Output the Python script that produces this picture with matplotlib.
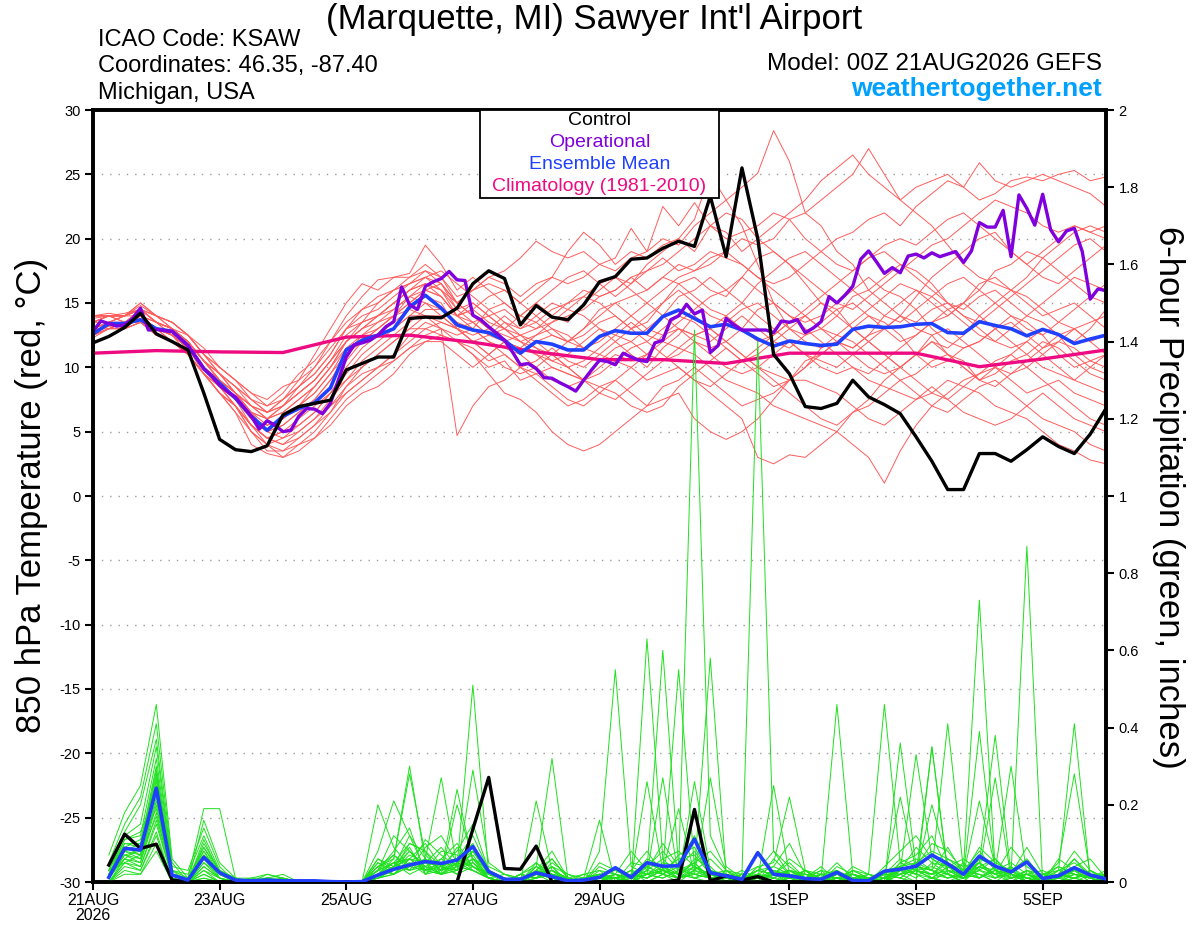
#!/usr/bin/python3
"""
GEFS plume for KSAW: 850 hPa temperature members (red) and 6-hour precip (green)
"""
import numpy as np
import pandas as pd
import matplotlib
matplotlib.use("Agg")
import matplotlib.pyplot as plt
from matplotlib.patches import Rectangle

plt.rcParams['font.family'] = ['Liberation Sans', 'DejaVu Sans']

#
# Time axes
#
t6 = pd.date_range("2026-08-21 00:00", periods=65, freq="6h")
t3 = pd.date_range("2026-08-21 00:00", periods=129, freq="3h")
tday = pd.date_range("2026-08-21", periods=17, freq="D")
tp = t6[1:]

tick_dates = ["2026-08-21", "2026-08-23", "2026-08-25", "2026-08-27",
              "2026-08-29", "2026-09-01", "2026-09-03", "2026-09-05"]
tick_labels = ["21AUG\n2026", "23AUG", "25AUG", "27AUG", "29AUG", "1SEP", "3SEP", "5SEP"]

#
# 850 hPa temperature (C)
#
control_t = [11.9, 12.4, 13.1, 14.2, 12.6, 12.0, 11.35, 8.0, 4.4, 3.6, 3.45, 3.9, 6.3,
             6.95, 7.2, 7.45, 9.8, 10.3, 10.8, 10.8, 13.8, 13.9, 13.85, 14.6, 16.5, 17.5,
             16.9, 13.3, 14.8, 13.9, 13.7, 14.85, 16.65, 17.05, 18.4, 18.5, 19.25, 19.8,
             19.4, 23.3, 18.6, 25.5, 20.0, 11.0, 9.5, 6.95, 6.8, 7.2, 9.0, 7.7, 7.1, 6.4,
             4.6, 2.7, 0.5, 0.5, 3.3, 3.3, 2.7, 3.6, 4.6, 3.85, 3.3, 4.8, 6.8]

mean_t = [12.6, 13.4, 13.4, 13.7, 13.0, 12.8, 11.7, 9.9, 8.75, 7.6, 6.2, 5.1, 6.2, 6.8,
          7.25, 8.4, 11.35, 12.1, 12.5, 13.0, 14.7, 15.6, 14.6, 13.3, 12.9, 12.7, 12.1,
          11.1, 12.0, 11.8, 11.35, 11.35, 12.4, 12.85, 12.65, 12.65, 13.95, 14.45, 13.8,
          13.15, 13.35, 12.9, 12.2, 11.65, 12.05, 11.85, 11.7, 11.8, 12.95, 13.2, 13.1,
          13.15, 13.35, 13.4, 12.7, 12.65, 13.55, 13.25, 13.0, 12.45, 12.95, 12.55,
          11.85, 12.2, 12.5]

oper_t = [12.8, 13.6, 13.4, 13.2, 13.3, 13.8, 14.6, 12.9, 12.95, 12.85, 12.8, 12.25,
          11.7, 10.8, 9.9, 9.3, 8.6, 8.1, 7.7, 6.95, 6.2, 5.2, 5.85, 5.5, 5.0, 5.1, 6.2,
          6.8, 6.75, 6.4, 7.2, 9.0, 10.8, 11.75, 11.9, 12.1, 12.5, 13.15, 13.55, 16.25,
          14.85, 14.5, 16.3, 16.65, 16.9, 17.45, 16.8, 16.75, 14.05, 13.7, 13.15, 12.65,
          12.1, 11.2, 10.2, 10.3, 9.9, 9.2, 9.15, 8.8, 8.5, 8.15, 9.0, 9.8, 10.55, 10.45,
          10.2, 11.1, 10.8, 10.55, 10.45, 11.9, 12.1, 13.7, 14.0, 14.9, 14.15, 14.45,
          11.15, 11.7, 13.8, 13.3, 12.9, 12.9, 12.9, 12.9, 12.7, 13.6, 13.5, 13.7, 12.7,
          13.05, 13.55, 15.5, 15.0, 15.6, 16.3, 18.4, 19.05, 18.2, 17.3, 17.75, 17.35,
          18.65, 18.8, 18.5, 18.9, 18.6, 18.8, 19.0, 18.15, 19.05, 21.25, 20.9, 20.9,
          22.2, 18.6, 23.4, 22.35, 21.05, 23.45, 20.7, 19.75, 20.6, 20.8, 19.0, 15.3,
          16.1, 15.95]

clim_t = [11.1, 11.3, 11.2, 11.15, 12.35, 12.5, 11.95, 11.2, 10.6, 10.6, 10.3, 11.1,
          11.1, 11.1, 10.05, 10.65, 11.35]

m01 = [13.5, 14, 14, 14.5, 13.5, 13, 12, 10.5, 9, 7.5, 6.5, 6, 7, 8.5, 10, 12, 13.5, 14.5, 15, 16, 16.5, 17.5, 17,
       15, 16, 16.5, 16, 15, 16, 17, 16.5, 17, 18, 17.5, 18.5, 19, 20, 19.5, 21, 22, 23, 24, 25.1,
       28.4, 26, 22, 21, 19, 18, 16, 15, 14, 13, 12.5, 11, 10.5, 9, 10, 11, 12, 11, 10, 9, 10, 11]
m02 = [12.5, 13, 13.5, 14, 13, 12.5, 11.5, 10, 8.5, 7, 5.5, 4.5, 4, 5, 6, 7.5, 9, 10.5, 11.5, 12.5, 13.5, 14.5, 14.5,
       14, 15, 14, 13, 12.5, 13, 14, 15, 16, 15.5, 16, 17, 16, 17, 18, 17.5, 18, 19, 20, 19.5,
       20, 21.5, 22, 23, 24, 25, 27, 25, 23, 22, 21, 19.5, 18, 17, 16.5, 16, 15, 14, 14.5, 15, 14, 13]
m03 = [14, 14, 14, 15, 14, 13.5, 12.5, 11, 9.5, 8.5, 7.5, 6.5, 7.5, 9, 11, 13, 15, 16.5, 16, 17, 17.3, 19.5, 18,
       16, 17, 16, 15, 14, 15, 14, 13.5, 15, 16, 17, 16.5, 18, 19, 20, 19, 21, 20.5, 19, 20,
       21, 22, 23, 24.5, 25.5, 26.5, 25, 24, 23, 24, 24.5, 25, 24, 23, 23.5, 24.5, 24.8, 24.5, 25, 25.3, 24.5, 24.8]
m04 = [13, 13.5, 13.5, 14, 13.5, 13, 12, 10.5, 9, 8, 6.5, 5.5, 6, 7, 8, 9.5, 11, 12, 13, 14, 15, 16, 16.5,
       14.5, 15, 14, 14.5, 13.5, 13, 13.5, 14, 14.5, 15.5, 16, 17, 17.5, 18.5, 17.5, 18, 19, 18.5, 18, 17,
       16.5, 17, 18, 19, 20, 20.5, 21.5, 22, 21, 22.5, 23.5, 24.5, 24, 25.9, 24.5, 24, 24.5, 25, 24.5, 24, 23.5, 22.5]
m05 = [12.5, 13.5, 13, 13.5, 12.5, 12, 11, 9.5, 8, 7, 5, 4, 3, 3.5, 4.5, 5.5, 7, 8, 8.5, 9.5, 11, 12, 12.5,
       12, 11, 10, 10.5, 9, 9.5, 10, 9.5, 9, 10, 11, 10.5, 11, 12, 11.5, 11, 10, 9, 8.5, 8,
       7, 6.5, 6, 5.5, 5, 4, 3, 1.0, 3.5, 5.5, 7, 8, 9, 9.5, 10, 9, 8, 8.5, 9, 8, 7.5, 7]
m06 = [13, 13.5, 14, 14.5, 13.5, 13, 12, 10.5, 9.5, 8.5, 7, 6, 6.5, 7.5, 8.5, 10, 12, 13, 13.5, 14.5, 15.5, 15, 14,
       13, 12, 11, 12, 11, 10, 9, 8.5, 9, 10.5, 11.5, 12, 11, 10.5, 11, 12, 11, 10, 9.5, 10,
       11, 12, 11, 10, 9.5, 10, 9, 8.5, 8, 7.5, 8, 9, 8.5, 8, 7, 6.5, 6, 5, 4, 3.5, 2.8, 2.5]
m07 = [13.5, 14, 13.5, 14, 13, 12.5, 11.5, 10, 8.5, 7.5, 6, 5, 5.5, 6.5, 7.5, 9, 11, 12.5, 13.5, 14, 14.5, 14, 13,
       4.7, 7, 8.5, 9, 10, 9.5, 8.5, 7.5, 7, 8, 9, 10, 11, 12.5, 13, 12, 11.5, 12, 13, 14.5,
       15, 14, 13.5, 14, 15, 16, 17, 16, 15.5, 14.5, 13, 12, 11.5, 12, 13, 14, 13.5, 12.5, 11, 10, 10.5, 11]
m08 = [12.5, 13, 13, 13.5, 13, 12.5, 11.5, 10, 9, 8, 6.5, 5, 4.5, 5, 6, 7, 8, 9, 10, 11, 12.5, 13.5, 13,
       12, 11, 9.5, 8, 7.5, 6.5, 5, 4, 3.5, 4, 5, 6, 7, 8.5, 9, 10, 9, 8, 7, 7.5,
       8, 9, 10.5, 11, 12, 11.5, 12.5, 13, 14, 13.5, 14.5, 15, 14, 13, 12, 11.5, 12, 13, 12.5, 11, 10, 9.5]
m09 = [14, 14.2, 14, 14.5, 14, 13.5, 12.5, 11.5, 10, 9, 8, 7, 8, 9.5, 10.5, 12, 14, 15.5, 16.8, 17, 17, 18, 17,
       15.5, 16, 17, 16.5, 15.5, 16.5, 17, 19, 20.5, 19.5, 18, 19, 18.5, 19.5, 20, 21.5, 25, 23, 21, 18,
       15, 13, 12, 11.5, 12, 13, 14, 13.5, 12.5, 11, 10, 10.5, 11.5, 12, 13, 13.5, 12.5, 11.5, 12, 13, 13.5, 14]
m10 = [13, 13.5, 13.5, 14, 13, 12.5, 11.5, 10, 8.5, 7, 5.5, 4.5, 5, 6, 7, 8, 9.5, 11, 12, 13, 14, 15, 14.5,
       13.5, 13, 12, 11.5, 11, 12, 12.5, 12, 11.5, 11, 10.5, 10, 9, 9.5, 10, 9, 8, 7, 6, 3,
       2.5, 3.2, 3, 4, 5, 6.5, 7, 8, 9, 9.5, 10.5, 11, 10, 9, 9.5, 10.5, 11, 12, 11.5, 10.5, 9.5, 9]
m11 = [13.5, 13.5, 14, 14.5, 13.5, 12.5, 11.5, 10, 8.5, 7.5, 6, 5, 6, 7, 8, 9.5, 11.5, 12.5, 13, 14, 15, 16, 15.5,
       14, 14.5, 13.5, 13, 12, 12.5, 13, 12, 12.5, 13.5, 14, 13, 13.5, 15, 16, 15, 14, 13.5, 14.5, 15,
       14, 13, 12.5, 13, 14, 15.5, 16, 17, 18, 17.5, 16.5, 15, 14.5, 15.5, 16, 15, 14, 15, 16, 17, 16.5, 16]
m12 = [12.5, 13, 13.5, 14, 13, 12, 11, 9.5, 8.5, 7, 5, 3.5, 3.5, 4.5, 5.5, 6.5, 8, 9, 10, 11, 12, 13, 13.5,
       13, 12.5, 13, 12, 11.5, 11, 10.5, 11, 12, 13, 12.5, 12, 13, 14, 15.5, 16, 17, 16, 15, 14,
       13, 12, 11, 10.5, 10, 11, 12, 13, 14, 15.5, 17, 18, 19, 20, 20.5, 19, 18, 17, 16.5, 17.5, 18.5, 19.5]
m13 = [14, 14, 14, 14.5, 14, 13.5, 12.5, 11, 10, 9, 7.5, 7, 7.5, 8.5, 9.5, 11, 13, 14, 14.5, 15.5, 16.5, 17, 16.5,
       15, 14, 13, 14, 13, 14, 15, 14.5, 14, 13, 12, 13, 14, 15, 16.5, 17, 16, 15.5, 17, 18.5,
       19, 18, 16.5, 15, 14.5, 13, 12, 11, 10, 11, 12.5, 13, 12, 11, 10, 9.5, 10, 11, 12, 11.5, 10.5, 10]
m14 = [13, 13, 13.5, 14, 13, 12, 11, 9.5, 8, 6.5, 4, 3.3, 3, 4, 4.5, 6, 7.5, 8.5, 9.5, 10.5, 11.5, 12.5, 13,
       12.5, 13, 12, 11, 10, 10.5, 11.5, 10.5, 10, 11, 12, 11, 10, 11.5, 12.5, 14, 13, 12, 11, 10,
       9.5, 9, 10, 11, 12, 11, 10, 9.5, 10, 11, 12, 11.5, 12.5, 14, 15, 16, 17, 18.5, 19.5, 20.5, 21, 20.5]
m15 = [13.5, 14, 14, 15, 14, 13, 12, 10.5, 9, 8, 7, 6.5, 7, 8, 9, 10.5, 12.5, 13.5, 14, 15, 16, 16.5, 15.5,
       14, 13, 14.5, 15, 14, 13.5, 12.5, 12, 13, 14, 15, 15.5, 16, 17, 16.5, 15.5, 14.5, 14, 13, 12,
       12.5, 13.5, 14, 13, 12, 11.5, 12.5, 14, 15, 16, 15.5, 14.5, 13.5, 12.5, 12, 13, 14, 13.5, 12.5, 12, 13, 14.5]
m16 = [12.3, 13, 13, 13.5, 12.5, 12, 11, 9.5, 8, 7, 5.5, 4.5, 4, 4.5, 5.5, 7, 8.5, 9.5, 10, 10.5, 11.5, 12, 12,
       11, 10, 11, 12, 12.5, 11.5, 10.5, 10, 9, 8.5, 9, 8, 7, 7.5, 8, 6, 5, 4.4, 5, 6,
       7.5, 9, 9, 8.5, 8, 7, 6, 5.5, 6.5, 7.5, 8.5, 7.5, 6.5, 6, 5.5, 6, 7, 8, 7, 6, 5.5, 5]
m17 = [14, 14, 14.2, 14.5, 13.5, 13, 12.5, 11, 10, 9, 8, 7.5, 8.5, 9, 10, 11.5, 13, 14.5, 15.5, 16, 17, 17.5, 16.5,
       15, 16, 17, 17.5, 18.5, 19.8, 19, 18.5, 19, 18, 18.5, 20.8, 19, 22.5, 21, 22.8, 21, 20, 20.5, 21,
       22, 21.5, 20, 19, 18, 17.5, 18.5, 19.5, 20, 19.5, 20.5, 21.5, 22, 21, 20, 19, 18, 19, 20, 21, 20.5, 21]
m18 = [13, 13.5, 13, 14, 13, 12.5, 11.5, 10, 9, 7.5, 6, 5.5, 6, 7, 8.5, 10, 11.5, 12, 12.5, 13, 14, 14, 13.5,
       13, 12, 12.5, 13.5, 12.5, 12, 11, 10, 10.5, 11.5, 12.5, 13.5, 12.5, 12, 13, 12.5, 12, 13, 14, 13,
       12, 11.5, 12.5, 13.5, 14.5, 15, 14, 13, 12, 12.5, 13.5, 14, 15, 16.5, 17, 16, 15.5, 14.5, 13.5, 13, 12, 12.5]
m19 = [13.5, 14, 14, 14, 13.5, 13, 12, 10.5, 9.5, 8, 6.5, 6, 6.5, 7.5, 8.5, 10, 12, 13, 14, 15, 16, 16.5, 16,
       14, 14.5, 15.5, 16, 15, 14, 13, 12.5, 11.5, 12, 13, 14, 15, 16, 17, 17.5, 18.5, 19, 18, 17,
       16, 15, 14, 13, 12.5, 13.5, 14.5, 15.5, 16.5, 16, 15, 14, 15, 16, 17.5, 18, 19, 18.5, 17.5, 16.5, 15.5, 15]
m20 = [12.5, 13, 13.5, 13.5, 12.5, 12, 11, 9.5, 8.5, 7.5, 5.5, 4.5, 5, 5.5, 6.5, 8, 9, 10, 11, 12, 13, 13, 12.5,
       12, 11.5, 10.5, 11, 10, 9, 8, 7, 7.5, 8.5, 8, 7, 6.5, 7, 8.5, 9.5, 10.5, 11.5, 10.5, 9.5,
       8.5, 9, 10, 11.5, 12.5, 12, 11, 10, 9, 8, 7, 6.5, 7.5, 8.5, 9, 8, 7, 6, 5.5, 5, 4, 3.5]
m21 = [13, 13.5, 14, 14.5, 13.5, 12.5, 11.5, 10, 9, 7.5, 6, 5, 5.5, 6.5, 7.5, 9, 10.5, 12, 13, 14, 15.5, 16.5, 16,
       15, 14, 13, 12.5, 12, 11.5, 11, 12, 13, 14.5, 15, 14, 13, 12.5, 13.5, 14.5, 15.5, 16, 17, 16,
       15, 14, 13, 12, 11, 10, 9.5, 10.5, 11.5, 12.5, 13.5, 14.5, 15, 14, 13, 12, 11, 10, 9.5, 9, 8.5, 8]
m22 = [13.5, 14, 13.5, 14.5, 14, 13, 12, 10.5, 9, 8, 7, 6.5, 7.5, 8.5, 9.5, 11, 13, 13.5, 14, 15, 16, 17, 16,
       14.5, 13.5, 12.5, 13, 14, 15, 16, 17, 17.5, 16.5, 15.5, 16.5, 17.5, 18, 19, 20, 21, 22, 21.5, 20,
       19, 18, 17, 16, 15, 14.5, 15.5, 16.5, 17.5, 18.5, 19.5, 20, 21, 22, 23, 22.5, 22, 21, 20.5, 21, 20.5, 20]
m23 = [12.8, 13.2, 13.5, 14, 13, 12.5, 11.5, 9.5, 8, 6.5, 5, 4, 4.5, 5.5, 6.5, 8, 10, 11.5, 12.5, 13.5, 14.5, 15.5, 15,
       13, 12, 11, 10, 9.5, 10, 11, 10, 9, 8, 7.5, 8.5, 9.5, 10.5, 11.5, 12.5, 13, 12, 11, 10,
       9, 8, 7, 6, 5.5, 6.5, 7.5, 9, 10, 11, 12, 11, 10, 9, 8.5, 9.5, 10.5, 11.5, 12.5, 13, 12, 11]
m24 = [14, 14, 14, 14.8, 14, 13.5, 12.5, 11, 9.5, 8.5, 7.5, 6.5, 7, 8, 9, 10.5, 12, 13.5, 15, 16, 16.5, 17, 17.5,
       16.5, 15.5, 14.5, 13.5, 13, 13.5, 14.5, 15, 15.5, 15, 14, 13, 12, 11, 10, 9, 8.5, 9.5, 10.5, 11.5,
       12.5, 13.5, 14.5, 15.5, 16.5, 17.5, 18.5, 19, 18, 17, 16, 15, 14, 13.5, 14.5, 15.5, 16.5, 17.5, 18.5, 19.5, 20, 19]
m25 = [12.6, 13.2, 13.2, 13.8, 13, 12.5, 11, 9.5, 8, 7, 5.5, 4, 3.5, 4, 5, 6.5, 8.5, 10, 11, 12, 13, 14, 14,
       13, 13.5, 14, 13, 12, 11, 10, 9.5, 9, 9.5, 10.5, 11.5, 12, 13, 14, 13.5, 12.5, 11.5, 10.5, 11,
       12, 13, 14, 15, 14, 13, 12, 11, 10, 9, 8, 7.5, 8.5, 9.5, 10.5, 11, 10, 9, 8, 7, 6, 5.5]
m26 = [13.8, 14, 14, 14.5, 13.5, 13, 12, 10.5, 9.5, 8, 7, 6, 7, 8, 9, 10.5, 12, 13, 14, 14.5, 15.5, 16, 15.5,
       14, 13.5, 12.5, 12, 11.5, 12.5, 13.5, 14.5, 15.5, 16.5, 17, 16, 15, 14, 13, 12.5, 13, 14, 15, 16.5,
       17.5, 18.5, 19, 18, 17, 16, 15, 14, 13.5, 14.5, 15.5, 16.5, 17, 16, 15, 14, 13, 12.5, 13.5, 14.5, 15.5, 16.5]
members_t = [m01, m02, m03, m04, m05, m06, m07, m08, m09, m10, m11, m12, m13,
             m14, m15, m16, m17, m18, m19, m20, m21, m22, m23, m24, m25, m26]

#
# 6-hour precipitation (inches), from 06Z 21AUG
#
control_p = [0.044, 0.124, 0.087, 0.098, 0.005] + [0.0] * 18 + \
            [0.137, 0.271, 0.035, 0.033, 0.093] + [0.0] * 8 + \
            [0.005, 0.188, 0.003, 0.016, 0.005, 0.014] + [0.0] * 22

mean_p = [0.012, 0.087, 0.083, 0.243, 0.018, 0.005, 0.064, 0.024, 0.005, 0.003, 0.005,
          0.003, 0.003, 0.003, 0.001, 0.0, 0.001, 0.018, 0.033, 0.044, 0.053, 0.048, 0.057,
          0.092, 0.027, 0.007, 0.007, 0.024, 0.014, 0.003, 0.005, 0.012, 0.037, 0.012,
          0.050, 0.041, 0.042, 0.111, 0.024, 0.016, 0.007, 0.076, 0.020, 0.016, 0.009,
          0.007, 0.025, 0.004, 0.003, 0.028, 0.033, 0.041, 0.070, 0.047, 0.020, 0.067,
          0.041, 0.026, 0.052, 0.009, 0.016, 0.037, 0.018, 0.008]

# members in hundredths of an inch
p01 = [7, 18, 25, 46, 6, 1, 19, 19, 1, 0, 1, 2, 0, 0, 0, 0, 0, 3, 5, 10, 8, 2, 6, 12, 3, 1, 0, 4, 2, 0, 2, 3,
       2, 0, 4, 8, 3, 143, 12, 3, 0, 1, 2, 5, 1, 0, 2, 1, 0, 1, 4, 2, 0, 3, 2, 21, 4, 1, 2, 0, 1, 6, 2, 1]
p02 = [5, 15, 22, 41, 5, 0, 16, 5, 1, 1, 0, 1, 0, 0, 0, 0, 0, 8, 21, 12, 3, 5, 2, 8, 2, 0, 1, 3, 6, 1, 0, 5,
       3, 1, 0, 2, 1, 6, 4, 0, 2, 140, 8, 2, 0, 1, 3, 0, 0, 0, 2, 5, 1, 0, 1, 3, 6, 2, 0, 1, 0, 3, 1, 0]
p03 = [4, 13, 20, 37, 4, 3, 14, 4, 0, 0, 2, 1, 0, 0, 0, 0, 0, 2, 6, 30, 5, 9, 4, 3, 1, 2, 0, 1, 4, 2, 1, 16,
       0, 2, 5, 3, 1, 2, 1, 0, 1, 3, 4, 2, 0, 1, 0, 2, 1, 0, 3, 1, 5, 2, 0, 6, 4, 2, 87, 0, 2, 3, 0, 1]
p04 = [3, 12, 15, 35, 3, 2, 12, 3, 1, 0, 1, 0, 0, 0, 0, 0, 0, 5, 3, 8, 4, 2, 20, 6, 1, 0, 2, 5, 1, 0, 1, 2,
       1, 3, 2, 5, 4, 8, 2, 1, 0, 4, 5, 22, 3, 0, 1, 2, 0, 1, 5, 3, 2, 6, 4, 73, 3, 2, 1, 0, 2, 4, 1, 0]
p05 = [3, 11, 12, 32, 3, 0, 10, 3, 0, 0, 1, 0, 0, 0, 0, 0, 0, 1, 2, 5, 3, 4, 6, 10, 2, 1, 0, 3, 2, 1, 0, 1,
       1, 0, 63, 6, 2, 5, 1, 0, 2, 1, 3, 0, 1, 0, 2, 1, 0, 1, 3, 33, 6, 4, 1, 5, 2, 0, 3, 1, 0, 2, 1, 2]
p06 = [2, 10, 10, 30, 2, 1, 9, 3, 1, 0, 0, 0, 0, 0, 0, 0, 0, 3, 8, 14, 2, 6, 3, 29, 5, 2, 1, 2, 3, 0, 1, 0,
       2, 1, 3, 60, 4, 2, 3, 1, 0, 2, 1, 3, 2, 1, 0, 3, 1, 0, 4, 2, 20, 5, 3, 2, 1, 4, 0, 2, 1, 3, 0, 1]
p07 = [2, 10, 9, 29, 2, 0, 8, 2, 0, 1, 2, 1, 0, 0, 0, 0, 0, 4, 6, 28, 7, 3, 5, 4, 1, 0, 2, 1, 5, 2, 0, 1,
       0, 2, 1, 3, 55, 4, 2, 0, 1, 3, 2, 1, 0, 2, 1, 0, 2, 1, 0, 3, 4, 2, 5, 1, 3, 2, 0, 1, 4, 2, 1, 0]
p08 = [2, 9, 8, 27, 2, 1, 7, 2, 0, 0, 0, 1, 0, 0, 0, 0, 0, 2, 4, 6, 10, 4, 8, 15, 3, 1, 0, 21, 3, 1, 0, 8,
       55, 4, 2, 1, 3, 5, 1, 2, 0, 1, 2, 3, 1, 0, 2, 1, 0, 2, 1, 4, 3, 1, 2, 4, 2, 1, 3, 0, 2, 1, 0, 2]
p09 = [1, 9, 7, 25, 2, 0, 6, 2, 1, 0, 0, 0, 0, 0, 0, 0, 0, 20, 9, 4, 3, 2, 5, 7, 1, 0, 1, 2, 4, 0, 1, 2,
       1, 0, 2, 4, 1, 3, 58, 2, 1, 0, 3, 2, 1, 4, 0, 1, 1, 3, 2, 0, 1, 4, 2, 3, 1, 2, 0, 1, 5, 28, 2, 1]
p10 = [1, 8, 7, 24, 2, 0, 5, 1, 0, 0, 1, 0, 0, 0, 0, 0, 0, 6, 4, 9, 2, 5, 4, 51, 2, 1, 0, 3, 1, 0, 0, 4,
       2, 1, 4, 2, 0, 3, 1, 0, 1, 2, 0, 1, 3, 0, 1, 2, 0, 1, 22, 3, 2, 5, 1, 2, 0, 3, 1, 2, 0, 1, 3, 0]
p11 = [1, 8, 6, 22, 1, 0, 4, 1, 0, 0, 0, 0, 0, 0, 0, 0, 0, 1, 3, 7, 5, 2, 3, 6, 4, 2, 1, 2, 0, 1, 2, 1,
       0, 2, 1, 3, 2, 4, 1, 0, 2, 0, 1, 3, 2, 1, 0, 2, 1, 0, 3, 2, 1, 2, 0, 4, 3, 30, 2, 0, 1, 2, 1, 0]
p12 = [1, 7, 6, 21, 1, 0, 4, 1, 0, 0, 1, 0, 0, 0, 0, 0, 0, 3, 7, 4, 6, 27, 4, 5, 1, 0, 2, 1, 3, 1, 0, 2,
       1, 3, 0, 2, 4, 1, 2, 3, 0, 1, 2, 0, 3, 1, 46, 2, 0, 1, 2, 3, 1, 0, 2, 1, 3, 0, 2, 1, 0, 1, 2, 1]
p13 = [1, 7, 5, 20, 1, 0, 3, 1, 0, 0, 0, 0, 0, 0, 0, 0, 0, 2, 5, 3, 4, 3, 6, 4, 2, 1, 0, 2, 1, 0, 1, 1,
       0, 1, 2, 27, 1, 3, 2, 1, 0, 2, 1, 0, 2, 1, 0, 3, 2, 46, 5, 3, 2, 1, 3, 2, 0, 1, 2, 3, 1, 0, 2, 1]
p14 = [1, 6, 5, 18, 1, 0, 3, 0, 0, 0, 0, 0, 0, 0, 0, 0, 0, 1, 4, 8, 3, 2, 5, 3, 1, 0, 2, 4, 32, 1, 0, 1,
       0, 2, 1, 4, 2, 1, 3, 0, 1, 2, 0, 1, 3, 2, 1, 0, 1, 0, 2, 4, 3, 1, 2, 5, 1, 3, 0, 2, 3, 41, 1, 2]
p15 = [0, 6, 4, 16, 1, 0, 2, 0, 0, 0, 0, 0, 0, 0, 0, 0, 0, 4, 2, 6, 5, 4, 3, 8, 2, 1, 0, 1, 2, 0, 1, 2,
       1, 0, 2, 1, 3, 2, 27, 4, 1, 0, 2, 3, 1, 0, 2, 1, 0, 2, 4, 5, 3, 41, 3, 1, 4, 2, 1, 0, 2, 1, 3, 1]
p16 = [0, 5, 4, 15, 1, 0, 2, 0, 0, 0, 0, 0, 0, 0, 0, 0, 0, 2, 3, 5, 2, 3, 4, 6, 3, 1, 0, 2, 1, 0, 0, 1,
       2, 1, 26, 3, 1, 4, 2, 1, 0, 3, 2, 1, 0, 2, 1, 0, 1, 0, 2, 3, 1, 4, 2, 39, 3, 1, 2, 0, 1, 3, 2, 1]
p17 = [0, 5, 3, 13, 0, 0, 1, 0, 0, 0, 0, 0, 0, 0, 0, 0, 0, 3, 5, 2, 4, 2, 3, 5, 1, 0, 1, 2, 3, 1, 0, 2,
       0, 1, 3, 2, 1, 26, 3, 2, 1, 0, 2, 1, 3, 0, 1, 2, 0, 2, 1, 4, 2, 3, 1, 5, 38, 2, 1, 0, 2, 1, 2, 0]
p18 = [0, 4, 3, 12, 0, 0, 1, 0, 0, 0, 0, 0, 0, 0, 0, 0, 0, 1, 2, 6, 3, 4, 2, 4, 2, 1, 0, 1, 2, 0, 1, 1,
       1, 2, 1, 3, 2, 1, 0, 3, 2, 1, 0, 2, 1, 3, 0, 1, 2, 0, 36, 4, 3, 2, 1, 3, 27, 1, 2, 1, 0, 2, 1, 0]
p19 = [0, 3, 2, 10, 0, 0, 0, 0, 0, 0, 0, 0, 0, 0, 0, 0, 0, 2, 4, 3, 5, 2, 4, 3, 1, 0, 2, 1, 2, 1, 0, 1,
       0, 1, 2, 3, 1, 2, 1, 0, 2, 1, 25, 2, 1, 0, 2, 1, 0, 1, 3, 2, 35, 2, 1, 4, 2, 3, 0, 1, 2, 1, 0, 1]
p20 = [0, 2, 2, 8, 0, 0, 0, 0, 0, 0, 0, 0, 0, 0, 0, 0, 0, 3, 2, 4, 6, 3, 24, 5, 2, 1, 0, 2, 1, 0, 1, 2,
       1, 0, 2, 3, 19, 2, 1, 0, 1, 2, 0, 3, 1, 2, 0, 1, 1, 2, 1, 0, 35, 3, 2, 1, 4, 2, 1, 0, 3, 2, 1, 0]
p21 = [2, 6, 9, 28, 2, 0, 11, 2, 0, 0, 1, 1, 0, 0, 0, 0, 0, 4, 7, 3, 9, 12, 5, 8, 2, 1, 0, 3, 8, 1, 0, 2,
       1, 3, 8, 2, 5, 12, 3, 1, 0, 2, 4, 10, 2, 1, 5, 1, 0, 4, 8, 12, 6, 3, 2, 9, 5, 3, 6, 1, 2, 8, 3, 1]
p22 = [4, 9, 11, 26, 3, 1, 7, 3, 0, 1, 1, 0, 0, 0, 0, 0, 0, 3, 12, 8, 4, 6, 10, 4, 1, 0, 1, 2, 3, 0, 1, 0,
       2, 8, 3, 10, 4, 3, 6, 2, 1, 3, 8, 4, 1, 3, 2, 0, 1, 2, 6, 4, 10, 8, 3, 5, 2, 9, 4, 1, 3, 5, 2, 2]
p23 = [3, 7, 8, 24, 1, 0, 9, 2, 1, 0, 0, 0, 0, 0, 0, 0, 0, 6, 3, 10, 8, 4, 3, 6, 2, 1, 0, 5, 2, 1, 0, 3,
       0, 5, 4, 2, 7, 9, 2, 1, 3, 1, 2, 6, 3, 0, 4, 2, 1, 0, 5, 7, 12, 3, 1, 7, 4, 2, 9, 2, 1, 4, 6, 1]
p24 = [1, 8, 10, 19, 2, 0, 6, 1, 0, 0, 1, 0, 0, 0, 0, 0, 0, 2, 5, 6, 3, 8, 7, 3, 1, 0, 2, 1, 4, 0, 0, 2,
       3, 1, 6, 4, 2, 5, 8, 3, 1, 0, 6, 2, 1, 2, 3, 1, 0, 3, 4, 6, 3, 9, 2, 4, 6, 1, 3, 2, 4, 2, 1, 3]
p25 = [2, 11, 13, 23, 1, 0, 5, 2, 0, 0, 0, 0, 0, 0, 0, 0, 0, 1, 4, 12, 6, 3, 9, 4, 2, 1, 0, 4, 1, 0, 1, 1,
       2, 0, 3, 6, 8, 4, 1, 2, 0, 1, 3, 1, 2, 1, 0, 4, 2, 1, 3, 9, 5, 4, 6, 3, 2, 4, 1, 0, 6, 3, 2, 1]
p26 = [3, 5, 7, 17, 2, 1, 8, 1, 0, 0, 0, 1, 0, 0, 0, 0, 0, 5, 2, 4, 11, 7, 4, 9, 3, 1, 0, 2, 6, 1, 0, 1,
       1, 2, 5, 3, 6, 7, 2, 1, 2, 4, 1, 3, 0, 2, 1, 3, 1, 2, 2, 5, 8, 6, 3, 8, 3, 5, 2, 1, 2, 6, 1, 2]
members_p = [p01, p02, p03, p04, p05, p06, p07, p08, p09, p10, p11, p12, p13,
             p14, p15, p16, p17, p18, p19, p20, p21, p22, p23, p24, p25, p26]

#
# Colours
#
c_member_t = '#ff5c5c'
c_member_p = '#1ee01e'
c_oper = '#8000dd'
c_mean = '#2040ff'
c_clim = '#ee0a80'
c_site = '#00a0ff'

#
# Figure
#
fig = plt.figure(figsize=(12, 9.27), dpi=100)
ax = fig.add_axes([93/1200, 45/927, 1013/1200, 772/927])
ax2 = ax.twinx()

for m in members_t:
    ax.plot(t6, m, color=c_member_t, lw=0.7, zorder=2)
ax.plot(tday, clim_t, color=c_clim, lw=2.4, zorder=4)
ax.plot(t6, mean_t, color=c_mean, lw=2.6, zorder=5)
ax.plot(t3, oper_t, color=c_oper, lw=2.4, zorder=6)
ax.plot(t6, control_t, color='black', lw=2.4, zorder=7)

for m in members_p:
    ax2.plot(tp, np.array(m) / 100.0, color=c_member_p, lw=0.7, zorder=2)
ax2.plot(tp, control_p, color='black', lw=2.4, zorder=5)
ax2.plot(tp, mean_p, color=c_mean, lw=2.6, zorder=6)

ax.set_xlim(pd.Timestamp("2026-08-21 00:00"), pd.Timestamp("2026-09-06 00:00"))
ax.set_ylim(-30, 30)
ax2.set_ylim(0, 2)

ax.set_yticks(range(-30, 31, 5))
ax.set_yticklabels([str(v) for v in range(-30, 31, 5)])
p_ticks = np.round(np.arange(0, 2.01, 0.2), 1)
ax2.set_yticks(p_ticks)
ax2.set_yticklabels(["%g" % v for v in p_ticks])
ax.set_xticks(pd.to_datetime(tick_dates))
ax.set_xticklabels(tick_labels, linespacing=1.0)

ax.yaxis.grid(True, linestyle=(0, (1, 5)), color='#999999', lw=1.0)
ax.set_axisbelow(True)

ax.tick_params(axis='both', direction='out', length=6, width=1.5, labelsize=10.5, pad=3)
ax.tick_params(axis='x', labelsize=11.5, pad=2)
ax2.tick_params(axis='y', direction='out', length=6, width=1.5, labelsize=10.5, pad=3)
for sp in list(ax.spines.values()) + list(ax2.spines.values()):
    sp.set_linewidth(2.6)

#
# Legend box
#
ax2.add_patch(Rectangle((0.382, 0.886), 0.236, 0.114, transform=ax.transAxes,
                        facecolor='white', edgecolor='black', lw=1.3, zorder=20))
leg = [("Control", 'black'), ("Operational", c_oper),
       ("Ensemble Mean", c_mean), ("Climatology (1981-2010)", c_clim)]
for i, (txt, col) in enumerate(leg):
    ax2.text(0.5, 0.986 - i*0.0283, txt, color=col, fontsize=14, ha='center', va='center',
             transform=ax.transAxes, zorder=21)

#
# Titles and labels
#
fig.text(0.495, 1 - 19/927, "(Marquette, MI) Sawyer Int'l Airport", fontsize=25,
         ha='center', va='center')
fig.text(98/1200, 1 - 40/927, "ICAO Code: KSAW", fontsize=17, ha='left', va='center')
fig.text(98/1200, 1 - 66/927, "Coordinates: 46.35, -87.40", fontsize=17, ha='left', va='center')
fig.text(98/1200, 1 - 93/927, "Michigan, USA", fontsize=17, ha='left', va='center')
fig.text(1102/1200, 1 - 64/927, "Model: 00Z 21AUG2026 GEFS", fontsize=17.5, ha='right', va='center')
fig.text(1102/1200, 1 - 89/927, "weathertogether.net", fontsize=19, fontweight='bold',
         color=c_site, ha='right', va='center')

fig.text(32/1200, 1 - 495/927, "850 hPa Temperature (red, \u00b0C)", fontsize=25,
         rotation=90, ha='center', va='center')
fig.text(1168/1200, 1 - 497/927, "6-hour Precipitation (green, inches)", fontsize=25,
         rotation=270, ha='center', va='center')

plt.savefig("out.png", dpi=100)
